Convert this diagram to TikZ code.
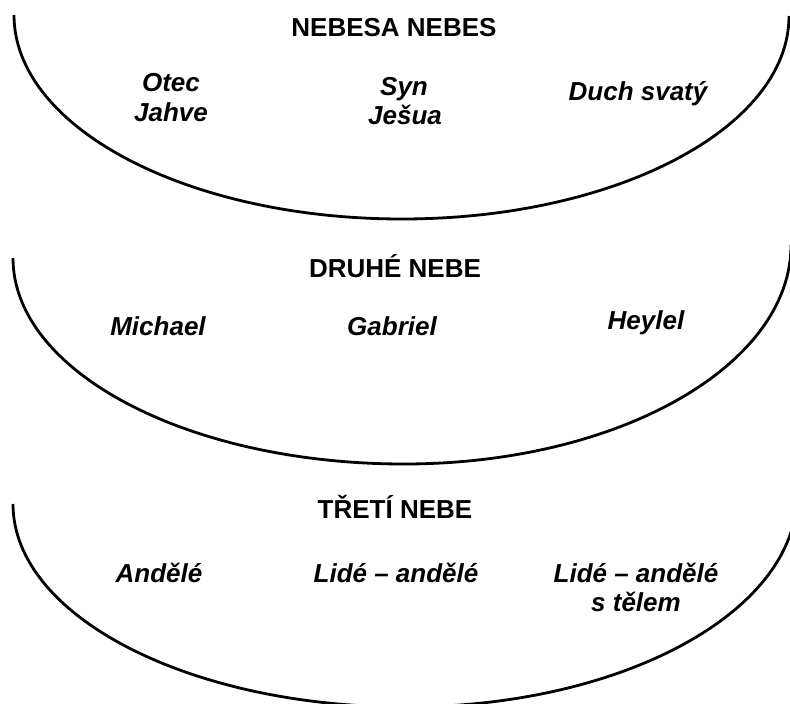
\documentclass[tikz,border=0pt]{standalone}
\usepackage{fontspec}
\setmainfont{Liberation Sans}
\tikzset{
  bowl/.style={line width=2.8pt, line cap=butt},
  ttl/.style={font=\fontsize{26}{30}\selectfont\bfseries, anchor=base, inner sep=0pt},
  lbl/.style={font=\fontsize{26}{30}\selectfont\bfseries\itshape, anchor=base, inner sep=0pt}
}
\begin{document}
\begin{tikzpicture}[x=1pt,y=-1pt]
\path[use as bounding box] (0,0) rectangle (790,704);
\begin{scope}
\clip (0,0) rectangle (790,704);
% bowl 1
\coordinate (l1) at (14,15);
\coordinate (b1) at (402,219);
\coordinate (r1) at (789,16);
\draw[bowl] (l1) .. controls (14,127.7) and (187.7,219) .. (b1)
            .. controls (615.7,219) and (789,128) .. (r1);
% bowl 2
\coordinate (l2) at (13,258);
\coordinate (b2) at (404,464);
\coordinate (r2) at (791,245);
\draw[bowl] (l2) .. controls (13,371.8) and (188,464) .. (b2)
            .. controls (617.7,464) and (791,366) .. (r2);
% bowl 3
\coordinate (l3) at (13,504);
\coordinate (b3) at (406,707);
\coordinate (r3) at (797,495);
\draw[bowl] (l3) .. controls (13,616.1) and (189,707) .. (b3)
            .. controls (622,707) and (797,612) .. (r3);
\end{scope}
% texts level 1
\node[ttl] (t1) at (394,36) {NEBESA NEBES};
\node[lbl] (otec) at (171,91) {Otec};
\node[lbl] (jahve) at (171,121) {Jahve};
\node[lbl] (syn) at (404,95) {Syn};
\node[lbl] (jesua) at (405,124) {Ješua};
\node[lbl] (duch) at (638,100) {Duch svatý};
% level 2
\node[ttl] (t2) at (395,277) {DRUHÉ NEBE};
\node[lbl] (michael) at (158,335) {Michael};
\node[lbl] (gabriel) at (392,335) {Gabriel};
\node[lbl] (heylel) at (646,329) {Heylel};
% level 3
\node[ttl] (t3) at (395,518) {TŘETÍ NEBE};
\node[lbl] (andele) at (159,582) {Andělé};
\node[lbl] (lide1) at (396,582) {Lidé – andělé};
\node[lbl] (lide2) at (636,582) {Lidé – andělé};
\node[lbl] (telem) at (636,611) {s tělem};
\end{tikzpicture}
\end{document}
